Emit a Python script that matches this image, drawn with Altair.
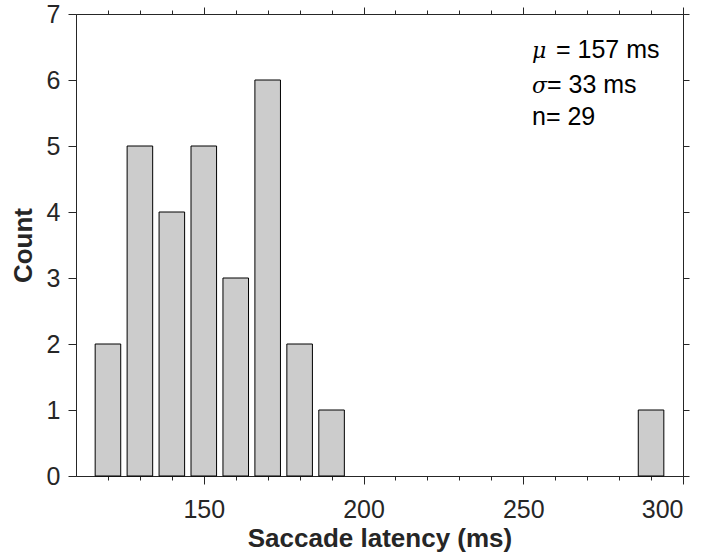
import altair as alt
import pandas as pd

# data
bin_centers = [120, 130, 140, 150, 160, 170, 180, 190, 290]
counts = [2, 5, 4, 5, 3, 6, 2, 1, 1]
x_major = [150, 200, 250, 300]
x_minor = [120, 130, 140, 160, 170, 180, 190, 210, 220, 230, 240, 260, 270, 280, 290]
y_ticks = [0, 1, 2, 3, 4, 5, 6, 7]
stat_greek = ["μ", "σ"]
stat_rest = ["= 157 ms", "= 33 ms", "n= 29"]

df = pd.DataFrame({"center": bin_centers, "count": counts})

FONT = "Liberation Sans"
INK = "#262626"
xscale = alt.Scale(domain=[110, 300], nice=False, zero=False)
yscale = alt.Scale(domain=[0, 7], nice=False)

base = alt.Chart(df).transform_calculate(
    lo="datum.center - 4", hi="datum.center + 4"
)

def xaxis(orient, values, size, labels, title=None):
    kw = dict(orient=orient, values=values, tickSize=size, labels=labels,
              domain=True, domainColor=INK, tickColor=INK, grid=False,
              labelFont=FONT, labelFontSize=25, labelColor=INK, labelPadding=13,
              titleFont=FONT, titleFontSize=26, titleFontWeight="bold",
              titleColor=INK, titlePadding=3, domainWidth=1, tickWidth=1)
    kw["title"] = title if title else None
    return alt.Axis(**kw)

def yaxis(orient, labels, size, title=None):
    return alt.Axis(orient=orient, values=y_ticks, tickSize=size, labels=labels,
                    domain=True, domainColor=INK, tickColor=INK, grid=False,
                    labelFont=FONT, labelFontSize=25, labelColor=INK, labelPadding=8,
                    titleFont=FONT, titleFontSize=26, titleFontWeight="bold",
                    titleColor=INK, titlePadding=10, title=title if title else None,
                    domainWidth=1, tickWidth=1)

bars = base.mark_bar(fill="#cccccc", stroke="black", strokeWidth=1).encode(
    x=alt.X("lo:Q", scale=xscale, axis=xaxis("bottom", x_major, 8, True, "Saccade latency (ms)")),
    x2="hi:Q",
    y=alt.Y("count:Q", scale=yscale, axis=yaxis("left", True, 8, "Count")),
    y2=alt.datum(0),
)

ghost1 = base.mark_point(opacity=0).encode(
    x=alt.X("lo:Q", scale=xscale, axis=xaxis("bottom", x_minor, 4, False)),
    y=alt.Y("count:Q", scale=yscale, axis=yaxis("right", False, 6)),
)
ghost2 = base.mark_point(opacity=0).encode(
    x=alt.X("lo:Q", scale=xscale, axis=xaxis("top", x_major, 7, False)),
)
ghost3 = base.mark_point(opacity=0).encode(
    x=alt.X("lo:Q", scale=xscale, axis=xaxis("top", x_minor, 4, False)),
)

def txt(s, x, y, greek=False):
    return alt.Chart(pd.DataFrame({"t": [s]})).mark_text(
        font="DejaVu Serif" if greek else FONT,
        fontStyle="italic" if greek else "normal",
        fontSize=22 if greek else 25,
        align="left", baseline="alphabetic", color="black",
    ).encode(text="t:N", x=alt.value(x), y=alt.value(y))

texts = [
    txt(stat_greek[0], 456, 44, True),
    txt(stat_rest[0], 480, 44),
    txt(stat_greek[1], 456, 79, True),
    txt(stat_rest[1], 471, 79),
    txt(stat_rest[2], 456, 111),
]

chart = alt.layer(bars, ghost1, ghost2, ghost3, *texts).resolve_axis(
    x="independent", y="independent"
).properties(
    width=607, height=462,
    autosize=alt.AutoSizeParams(type="none"),
    padding={"left": 76, "top": 14, "right": 24, "bottom": 82},
    background="white",
).configure_view(stroke=None)

chart.save("out.html", embed_options={"renderer": "svg", "actions": False})
